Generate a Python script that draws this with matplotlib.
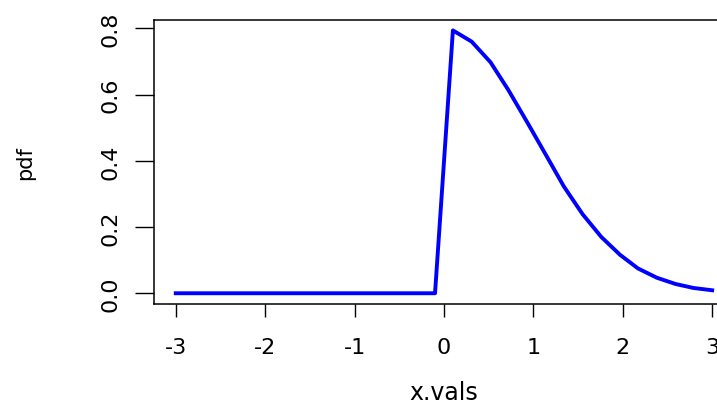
import matplotlib
matplotlib.use("Agg")
import matplotlib.pyplot as plt

plt.rcParams["font.family"] = ["DejaVu Sans"]
plt.rcParams["axes.unicode_minus"] = False

# Density of the half-normal on a 30-point grid from -3 to 3.
x_vals = [-3.00, -2.79, -2.59, -2.38, -2.17, -1.97, -1.76, -1.55, -1.34, -1.14,
          -0.93, -0.72, -0.52, -0.31, -0.10, 0.10, 0.31, 0.52, 0.72, 0.93,
          1.14, 1.34, 1.55, 1.76, 1.97, 2.17, 2.38, 2.59, 2.79, 3.00]
pdf = [0.0, 0.0, 0.0, 0.0, 0.0, 0.0, 0.0, 0.0, 0.0, 0.0,
       0.0, 0.0, 0.0, 0.0, 0.0, 0.794, 0.760, 0.698, 0.614, 0.517,
       0.418, 0.323, 0.239, 0.170, 0.116, 0.075, 0.047, 0.028, 0.016, 0.009]

x_ticks = [-3, -2, -1, 0, 1, 2, 3]
x_tick_labels = ["-3", "-2", "-1", "0", "1", "2", "3"]
y_ticks = [0.0, 0.2, 0.4, 0.6, 0.8]
y_tick_labels = ["0.0", "0.2", "0.4", "0.6", "0.8"]

fig = plt.figure(figsize=(7.17, 4.06), dpi=100)
# axes run past the right edge, so the right side of the box is cut off
ax = fig.add_axes([0.2152, 0.2493, 0.808, 0.6995])

ax.plot(x_vals, pdf, color="#0000ff", lw=2.8, solid_joinstyle="round")

ax.set_xlim(-3.24, 3.24)
ax.set_ylim(-0.0318, 0.826)

ax.set_xticks(x_ticks)
ax.set_xticklabels(x_tick_labels)
ax.set_yticks(y_ticks)
ax.set_yticklabels(y_tick_labels, rotation=90, va="center")

ax.tick_params(axis="x", direction="out", length=9, width=1.0, pad=15, labelsize=16)
ax.tick_params(axis="y", direction="out", length=14, width=1.0, pad=10, labelsize=16)

for side in ax.spines.values():
    side.set_linewidth(1.1)
    side.set_color("black")

ax.set_xlabel("x.vals", fontsize=17)
ax.xaxis.set_label_coords(0.5, -0.27)
ax.xaxis.label.set_va("top")
ax.set_ylabel("pdf", fontsize=15)
ax.yaxis.set_label_coords(-0.206, 0.5)

fig.savefig("out.png", dpi=100)
